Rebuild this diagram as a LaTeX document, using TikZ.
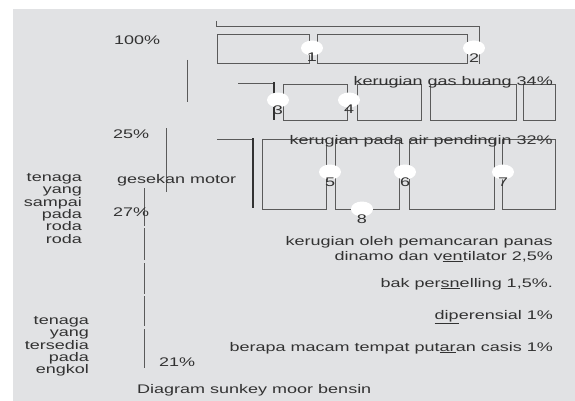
\documentclass[tikz,border=0pt]{standalone}
\usepackage{fontspec}
\setmainfont[FakeStretch=1.44]{Liberation Sans}
\usetikzlibrary{positioning,shapes.geometric}

\definecolor{bgrey}{RGB}{225,226,228}
\definecolor{ink}{RGB}{50,50,50}
\definecolor{wire}{RGB}{90,90,90}

\begin{document}
\begin{tikzpicture}[x=1pt,y=-1pt,
  every node/.style={font=\fontsize{12.5}{12.4}\selectfont,text=ink,inner sep=0pt},
  wire/.style={draw=wire,line width=0.9pt},
  bar/.style={draw=ink,line width=2.4pt},
  blob/.style={ellipse,fill=white,minimum width=22pt,minimum height=15pt}]

  \useasboundingbox (0,0) rectangle (575,401);
  \fill[bgrey] (13,9) rectangle (575,401);

  % top row
  \draw[wire] (216,21) |- (479,26) -- (479,64);
  \draw[wire] (217,34) rectangle (309,63);
  \draw[wire] (317,34) rectangle (467,63);

  % gas buang row
  \draw[wire] (187,60) -- (187,102);
  \draw[wire] (238,83) -- (273,83);
  \draw[bar] (274,82) -- (274,120);
  \foreach \l/\r in {283/347,357/421,430/516,523/555}
    \draw[wire] (\l,84) rectangle (\r,120);

  % air pendingin row
  \draw[wire] (166,128) -- (166,192);
  \draw[wire] (217,139) -- (252,139);
  \draw[bar] (253,138) -- (253,208);
  \foreach \l/\r in {262/326,335/399,409/494,502/555}
    \draw[wire] (\l,139) rectangle (\r,209);

  % trunk to the crank
  \foreach \t/\b in {188/226,228/260,263/294,296/326,329/368}
    \draw[wire] (144,\t) -- (144,\b);

  % numbered points
  \foreach \n/\x/\y in {1/312/48,2/474/48,3/278/100,4/349/100,
                        5/330/172,6/405/172,7/503/172,8/362/209}{
    \node[blob] (c\n) at (\x,\y) {};
    \node[below=-2.5pt of c\n] (n\n) {\n};
  }

  % losses
  \node[anchor=base east] (gas) at (553,86) {kerugian gas buang 34\%};
  \node[anchor=base east] (air) at (553,144) {kerugian pada air pendingin 32\%};
  \node[anchor=base east] (panas) at (553,245) {kerugian oleh pemancaran panas};
  \node[anchor=base east] (dinamo) at (553,260) {dinamo dan v\underline{en}tilator 2,5\%};
  \node[anchor=base east] (bak) at (553,287) {bak per\underline{sn}elling 1,5\%.};
  \node[anchor=base east] (dif) at (553,319) {\underline{dip}erensial 1\%};
  \node[anchor=base east] (casis) at (553,351) {berapa macam tempat put\underline{ar}an casis 1\%};

  % left side
  \node[anchor=base west] (p100) at (114,45) {100\%};
  \node[anchor=base west] (p25) at (113,138) {25\%};
  \node[anchor=base west] (gesek) at (117,183) {gesekan motor};
  \node[anchor=base west] (p27) at (113,216) {27\%};
  \node[anchor=base west] (p21) at (159,366) {21\%};
  \node[anchor=north east,align=right] (roda) at (82,173)
    {tenaga\\yang\\sampai\\pada\\roda\\roda};
  \node[anchor=north east,align=right] (engkol) at (89,316)
    {tenaga\\yang\\tersedia\\pada\\engkol};
  \node[anchor=base west] (judul) at (137,393) {Diagram sunkey moor bensin};
\end{tikzpicture}
\end{document}
